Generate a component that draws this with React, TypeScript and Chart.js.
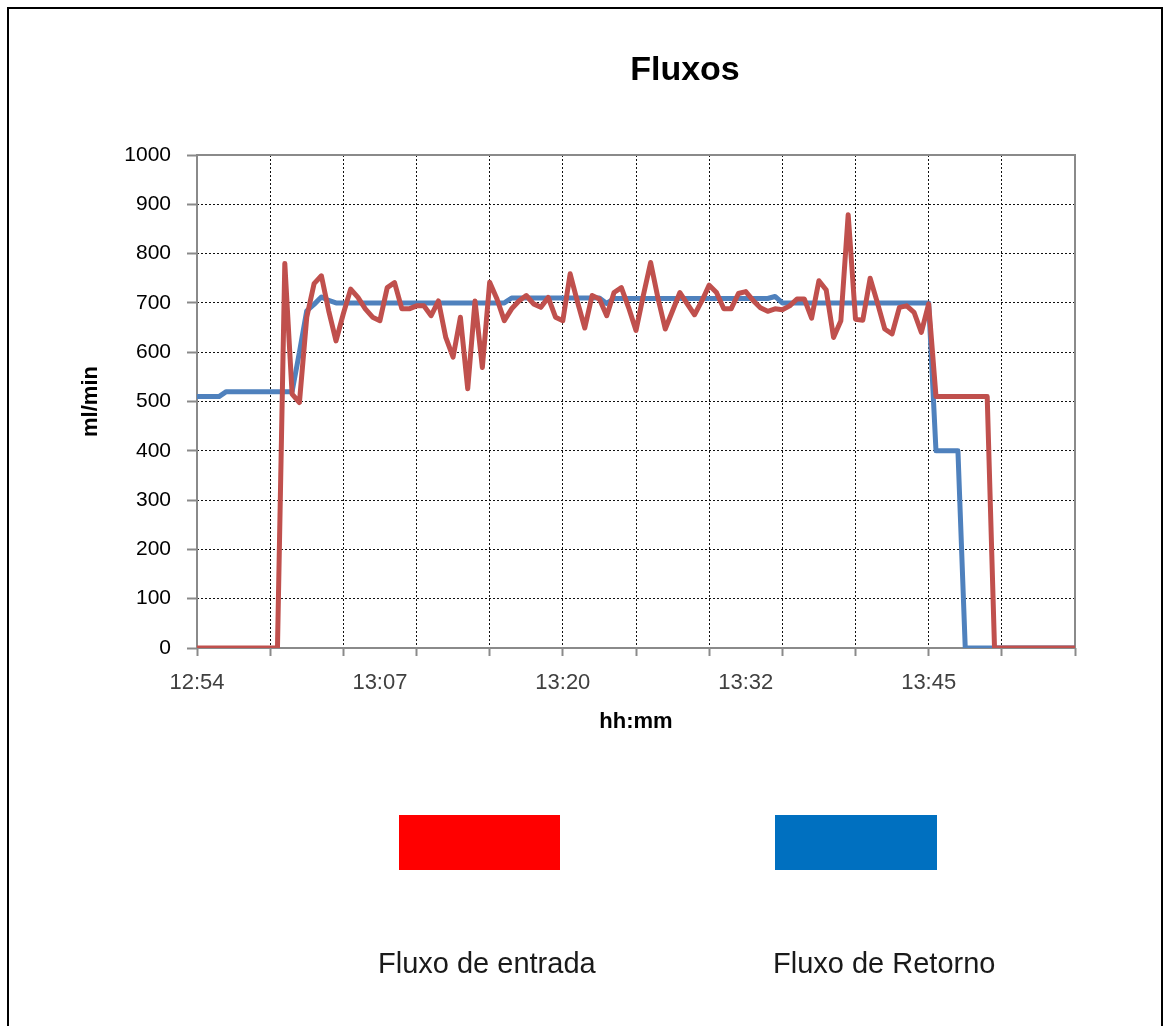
import React, { useEffect, useRef } from 'react';
import { Chart, registerables } from 'chart.js';

Chart.register(...registerables);

// One sample every 30 s, starting 12:54 (index = sample number)
const seriesEntrada: number[] = [
  0, 0, 0, 0, 0, 0, 0, 0, 0, 0, 0, 0,
  780, 515, 498, 671, 739, 755, 684, 623, 678, 728,
  711, 688, 671, 664, 731, 741, 688, 688, 694, 694,
  674, 704, 630, 590, 671, 526, 704, 569, 742, 708,
  664, 688, 704, 715, 698, 691, 711, 671, 664, 759,
  702, 649, 715, 708, 674, 721, 731, 690, 644, 715,
  782, 710, 647, 684, 721, 698, 676, 704, 736, 721,
  688, 688, 719, 723, 705, 690, 683, 688, 686, 694,
  708, 708, 669, 745, 726, 630, 664, 879, 667, 665,
  750, 700, 647, 637, 691, 694, 681, 640, 698,
  510, 510, 510, 510, 510, 510, 510, 510,
  0, 0, 0, 0, 0, 0, 0, 0, 0, 0, 0, 0,
];

const seriesRetorno: number[] = [
  510, 510, 510, 510,
  520, 520, 520, 520, 520, 520, 520, 520, 520, 520,
  600, 684, 697, 712, 705,
  700, 700, 700, 700, 700, 700, 700, 700, 700, 700, 700, 700,
  700, 700, 700, 700, 700, 700, 700, 700, 700, 700, 700, 700,
  710, 710, 710, 710, 710, 710, 710, 710, 710, 710, 710, 710, 710,
  699,
  709, 709, 709, 709, 709, 709, 709, 709, 709, 709, 709,
  709, 709, 709, 709, 709, 709, 709, 709, 709, 709, 709,
  713,
  700, 700, 700, 700, 700, 700, 700, 700, 700, 700, 700,
  700, 700, 700, 700, 700, 700, 700, 700, 700, 700,
  400, 400, 400, 400,
  0, 0, 0, 0, 0, 0, 0, 0, 0, 0, 0, 0, 0, 0, 0, 0,
];

const xTickLabels = ['12:54', '13:07', '13:20', '13:32', '13:45'];
const labelEvery = 25; // samples between time labels
const gridEvery = 10; // samples between vertical grid lines
const yMin = 0;
const yMax = 1000;
const yStep = 100;

const chartTitle = 'Fluxos';
const xAxisTitle = 'hh:mm';
const yAxisTitle = 'ml/min';
const legendLabels = ['Fluxo de entrada', 'Fluxo de Retorno'];
const legendColors = ['#FF0000', '#0070C0'];

const FONT = "'Liberation Sans', Arial, sans-serif";

const framePlugin = {
  id: 'frame',
  beforeDatasetsDraw(chart: any) {
    const { ctx, chartArea } = chart;
    const { left, top, right, bottom } = chartArea;
    ctx.save();
    ctx.strokeStyle = '#8a8a8a';
    ctx.lineWidth = 2;
    ctx.strokeRect(left, top, right - left, bottom - top);
    ctx.restore();
  },
};

export default function App() {
  const canvasRef = useRef<HTMLCanvasElement | null>(null);

  useEffect(() => {
    const canvas = canvasRef.current;
    if (!canvas) return;
    const sampleIndex = seriesEntrada.map((_, i) => i);
    const lastIndex = sampleIndex.length - 1;
    const tickValues = sampleIndex.filter((v) => v % gridEvery === 0 || v % labelEvery === 0);

    const chart = new Chart(canvas, {
      type: 'line',
      data: {
        labels: sampleIndex,
        datasets: [
          {
            label: legendLabels[0],
            data: seriesEntrada,
            borderColor: '#C0504D',
            backgroundColor: '#C0504D',
            borderWidth: 5,
            pointRadius: 0,
            tension: 0,
            borderJoinStyle: 'round',
            borderCapStyle: 'round',
            order: 0,
          },
          {
            label: legendLabels[1],
            data: seriesRetorno,
            borderColor: '#4F81BD',
            backgroundColor: '#4F81BD',
            borderWidth: 5,
            pointRadius: 0,
            tension: 0,
            borderJoinStyle: 'round',
            borderCapStyle: 'round',
            order: 1,
          },
        ],
      },
      options: {
        responsive: false,
        animation: false,
        devicePixelRatio: 1,
        events: [],
        layout: { padding: { left: 78, top: 155, right: 94, bottom: 1026 - 735 } },
        plugins: {
          legend: { display: false },
          title: { display: false },
          tooltip: { enabled: false },
        },
        scales: {
          x: {
            type: 'linear',
            min: 0,
            max: lastIndex,
            afterBuildTicks: (scale: any) => {
              scale.ticks = tickValues.map((v) => ({ value: v }));
            },
            afterFit: (scale: any) => {
              scale.height = 87;
            },
            grid: {
              color: (ctx: any) =>
                ctx.tick && ctx.tick.value % gridEvery === 0 ? '#111' : 'rgba(0,0,0,0)',
              lineWidth: 1,
              drawTicks: true,
              tickLength: 8,
              tickColor: (ctx: any) =>
                ctx.tick && ctx.tick.value % gridEvery === 0 ? '#8a8a8a' : 'rgba(0,0,0,0)',
              tickWidth: 2,
              tickBorderDash: [],
            },
            border: { display: false, dash: [2, 2] },
            ticks: {
              autoSkip: false,
              maxRotation: 0,
              padding: 14,
              color: '#404040',
              font: { family: FONT, size: 22 },
              callback: (value: any) => {
                const v = Number(value);
                return v % labelEvery === 0 ? xTickLabels[v / labelEvery] ?? '' : '';
              },
            },
            title: {
              display: true,
              text: xAxisTitle,
              color: '#000',
              padding: 0,
              font: { family: FONT, size: 22, weight: 'bold' },
            },
          },
          y: {
            min: yMin,
            max: yMax,
            afterFit: (scale: any) => {
              scale.width = 119;
            },
            grid: {
              color: '#111',
              lineWidth: 1,
              drawTicks: true,
              tickLength: 10,
              tickColor: '#8a8a8a',
              tickWidth: 2,
              tickBorderDash: [],
            },
            border: { display: false, dash: [2, 2] },
            ticks: {
              stepSize: yStep,
              padding: 16,
              color: '#000',
              font: { family: FONT, size: 21 },
              callback: (value: any) => String(value),
            },
            title: {
              display: true,
              text: yAxisTitle,
              color: '#000',
              padding: 0,
              font: { family: FONT, size: 22, weight: 'bold' },
            },
          },
        },
      } as any,
      plugins: [framePlugin],
    });

    return () => {
      chart.destroy();
    };
  }, []);

  const textBase: React.CSSProperties = {
    position: 'absolute',
    fontFamily: FONT,
    lineHeight: 1,
    whiteSpace: 'nowrap',
  };

  return (
    <div
      style={{
        position: 'absolute',
        left: 0,
        top: 0,
        width: 1169,
        height: 1026,
        overflow: 'hidden',
        background: '#fff',
      }}
    >
      <canvas
        ref={canvasRef}
        width={1169}
        height={1026}
        style={{ position: 'absolute', left: 0, top: 0, width: 1169, height: 1026 }}
      />
      <div
        style={{
          position: 'absolute',
          left: 7,
          top: 7,
          width: 1156,
          height: 1040,
          border: '2px solid #000',
          boxSizing: 'border-box',
          pointerEvents: 'none',
        }}
      />
      <div
        style={{
          ...textBase,
          left: 385,
          width: 600,
          top: 51,
          textAlign: 'center',
          fontSize: 34,
          fontWeight: 'bold',
          color: '#000',
        }}
      >
        {chartTitle}
      </div>
      <div style={{ position: 'absolute', left: 399, top: 815, width: 161, height: 55, background: legendColors[0] }} />
      <div style={{ position: 'absolute', left: 775, top: 815, width: 162, height: 55, background: legendColors[1] }} />
      <div style={{ ...textBase, left: 378, top: 949, fontSize: 29, color: '#1a1a1a' }}>{legendLabels[0]}</div>
      <div style={{ ...textBase, left: 773, top: 949, fontSize: 29, color: '#1a1a1a' }}>{legendLabels[1]}</div>
    </div>
  );
}
